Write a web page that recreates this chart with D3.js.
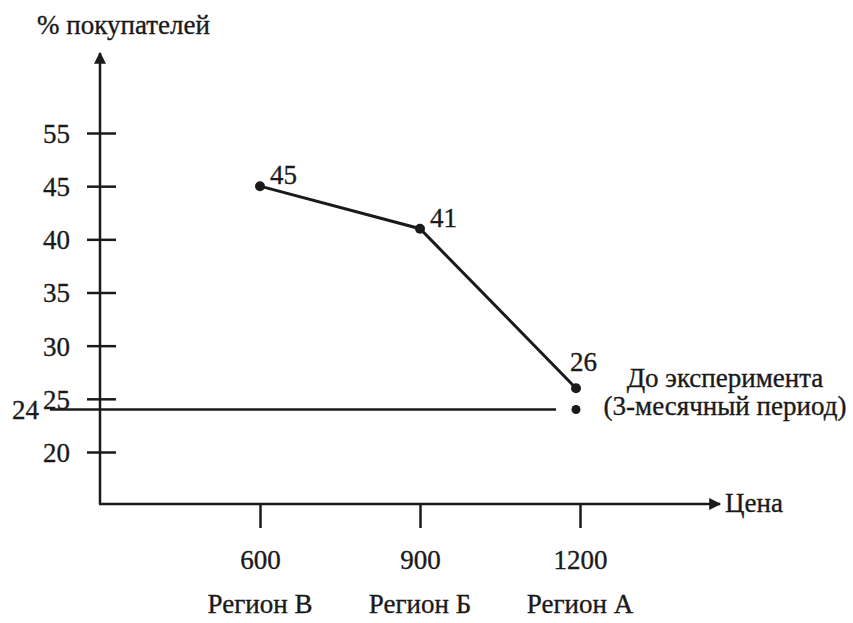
<!DOCTYPE html>
<html>
<head>
<meta charset="utf-8">
<script src="https://cdn.jsdelivr.net/npm/d3@7/dist/d3.min.js"></script>
<style>
  html, body { margin: 0; padding: 0; background: #fff; }
  svg text { font-family: "Liberation Serif", "DejaVu Serif", serif; fill: #1a1a1a; stroke: #1a1a1a; stroke-width: 0.35px; }
</style>
</head>
<body>
<svg id="chart" width="853" height="623"></svg>
<script>
// ---- data ----
const prices = [600, 900, 1200];
const regions = ["Регион В", "Регион Б", "Регион А"];
const shares = [45, 41, 26];
const baselinePrice = 1200;
const baselineShare = 24;
const yTickValues = [20, 25, 30, 35, 40, 45, 55];
const yTitle = "% покупателей";
const xTitle = "Цена";
const baselineLabel = ["До эксперимента", "(3-месячный период)"];

// ---- layout ----
const svg = d3.select("#chart");
const axisX = 100, axisY = 504;
const yTop = 133, yBottom = 452;
const ink = "#1a1a1a";
const fs = "27px";

const x = d3.scaleLinear().domain([300, 1200]).range([axisX, 580]);
const step = (yBottom - yTop) / (yTickValues.length - 1);
const y = d3.scaleLinear()
  .domain(yTickValues)
  .range(yTickValues.map((d, i) => yBottom - i * step));

svg.append("defs").append("marker")
  .attr("id", "arrow").attr("viewBox", "0 0 10 10")
  .attr("refX", 9).attr("refY", 5)
  .attr("markerWidth", 16).attr("markerHeight", 12)
  .attr("markerUnits", "userSpaceOnUse")
  .attr("orient", "auto")
  .append("path").attr("d", "M0,0 L10,5 L0,10 Z").attr("fill", ink);

// y axis line
svg.append("line")
  .attr("x1", axisX).attr("y1", axisY).attr("x2", axisX).attr("y2", 53)
  .attr("stroke", ink).attr("stroke-width", 2.5).attr("marker-end", "url(#arrow)");
// x axis line
svg.append("line")
  .attr("x1", axisX - 1).attr("y1", axisY).attr("x2", 720).attr("y2", axisY)
  .attr("stroke", ink).attr("stroke-width", 2.5).attr("marker-end", "url(#arrow)");

// y axis ticks via d3 axis
const yAxis = d3.axisLeft(y).tickValues(yTickValues).tickFormat(d3.format("d")).tickSize(0).tickPadding(0);
const yg = svg.append("g").attr("transform", `translate(${axisX},0)`).call(yAxis);
yg.attr("font-family", null).attr("font-size", null);
yg.select(".domain").remove();
yg.selectAll(".tick line").remove();
yg.selectAll(".tick").append("line")
  .attr("x1", -13).attr("x2", 16).attr("stroke", ink).attr("stroke-width", 2.5);
yg.selectAll(".tick text")
  .attr("x", -30).attr("dy", "0.35em")
  .style("font-size", fs)
  .attr("fill", ink);

// x axis ticks via d3 axis
const xAxis = d3.axisBottom(x).tickValues(prices).tickFormat(d3.format("d")).tickSize(0).tickPadding(0);
const xg = svg.append("g").attr("transform", `translate(0,${axisY})`).call(xAxis);
xg.attr("font-family", null).attr("font-size", null);
xg.select(".domain").remove();
xg.selectAll(".tick line").remove();
xg.selectAll(".tick").append("line")
  .attr("y1", 0).attr("y2", 24).attr("stroke", ink).attr("stroke-width", 2.5);
xg.selectAll(".tick text")
  .attr("y", 65).attr("dy", 0)
  .style("font-size", fs)
  .attr("fill", ink);

// region labels
svg.selectAll("text.region").data(regions).enter().append("text")
  .attr("class", "region")
  .attr("x", (d, i) => x(prices[i]))
  .attr("y", 613)
  .attr("text-anchor", "middle")
  .style("font-size", fs)
  .text(d => d);

// titles
svg.append("text").attr("x", 37).attr("y", 34).style("font-size", fs).text(yTitle);
svg.append("text").attr("x", 725).attr("y", 512).style("font-size", fs).text(xTitle);

// baseline (24) line
svg.append("line")
  .attr("x1", 50).attr("x2", x(baselinePrice) - 24)
  .attr("y1", y(baselineShare)).attr("y2", y(baselineShare))
  .attr("stroke", ink).attr("stroke-width", 2.5);
svg.append("text")
  .attr("x", 39).attr("y", y(baselineShare)).attr("dy", "0.35em")
  .attr("text-anchor", "end").style("font-size", fs)
  .text(baselineShare);
svg.append("circle")
  .attr("cx", x(baselinePrice) - 4).attr("cy", y(baselineShare)).attr("r", 4.5).attr("fill", ink);

// main series
const pts = prices.map((p, i) => ({ p, v: shares[i] }));
svg.append("path")
  .datum(pts)
  .attr("d", d3.line().x(d => x(d.p) - (d.p === 1200 ? 4 : 0)).y(d => y(d.v)))
  .attr("fill", "none").attr("stroke", ink).attr("stroke-width", 3);
svg.selectAll("circle.pt").data(pts).enter().append("circle")
  .attr("class", "pt")
  .attr("cx", d => x(d.p) - (d.p === 1200 ? 4 : 0)).attr("cy", d => y(d.v)).attr("r", 5).attr("fill", ink);
svg.selectAll("text.val").data(pts).enter().append("text")
  .attr("class", "val")
  .attr("x", (d, i) => x(d.p) + (i === 2 ? -10 : 10))
  .attr("y", (d, i) => y(d.v) - (i === 2 ? 17 : 2))
  .style("font-size", fs)
  .text(d => d.v);

// baseline annotation
svg.selectAll("text.note").data(baselineLabel).enter().append("text")
  .attr("class", "note")
  .attr("x", x(baselinePrice) + 145)
  .attr("y", (d, i) => y(shares[2]) - 1 + i * 28)
  .attr("text-anchor", "middle")
  .style("font-size", fs)
  .text(d => d);
</script>
</body>
</html>
